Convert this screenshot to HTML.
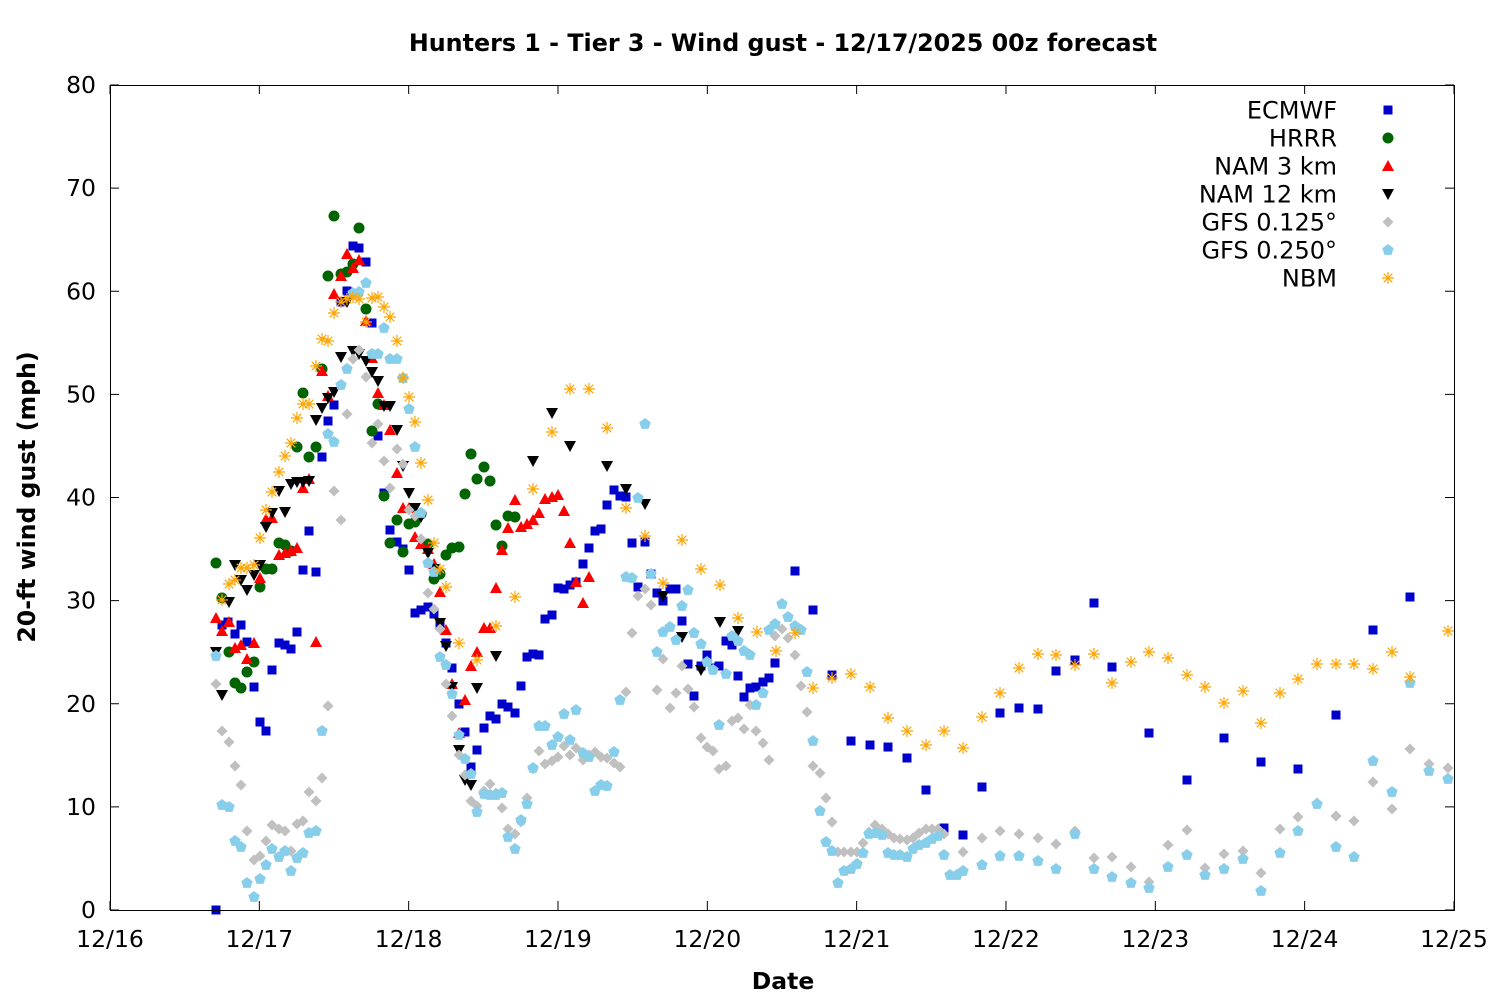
<!DOCTYPE html>
<html><head><meta charset="utf-8"><style>html,body{margin:0;padding:0;background:#fff}svg text{font-family:"DejaVu Sans","Liberation Sans",sans-serif}</style></head>
<body>
<svg id="s" xmlns="http://www.w3.org/2000/svg" width="1500" height="1000" viewBox="0 0 1500 1000">
<rect width="1500" height="1000" fill="#fff"/>
<text x="783" y="51" font-size="23.8" font-weight="bold" text-anchor="middle">Hunters 1 - Tier 3 - Wind gust - 12/17/2025 00z forecast</text>
<text x="783" y="989" font-size="23.5" font-weight="bold" text-anchor="middle">Date</text>
<text transform="translate(35,497) rotate(-90)" font-size="23.6" font-weight="bold" text-anchor="middle">20-ft wind gust (mph)</text>
<g id="ax"></g>
<g id="pts"></g>
<rect x="110.5" y="85.5" width="1344" height="825" fill="none" stroke="#000" stroke-width="1"/>
</svg>
<script>
const NS="http://www.w3.org/2000/svg";
const ax=document.getElementById('ax'),pts=document.getElementById('pts');
function el(t,a,p){const e=document.createElementNS(NS,t);for(const k in a)e.setAttribute(k,a[k]);(p||pts).appendChild(e);return e;}
for(let i=0;i<=8;i++){const y=910-i*103.125;
 el('line',{x1:110,y1:y,x2:119,y2:y,stroke:'#000'},ax);el('line',{x1:1454,y1:y,x2:1445,y2:y,stroke:'#000'},ax);
 const t=el('text',{x:96,y:y+8,'font-size':23.5,'text-anchor':'end'},ax);t.textContent=i*10;}
for(let i=0;i<=9;i++){const x=110+i*149.33;
 el('line',{x1:x,y1:910,x2:x,y2:901,stroke:'#000'},ax);el('line',{x1:x,y1:85,x2:x,y2:94,stroke:'#000'},ax);
 const t=el('text',{x:x,y:947,'font-size':23.5,'text-anchor':'middle'},ax);t.textContent='12/'+(16+i);}
function P(s){const a=[];const r=/\((\d+),(\d+)\)/g;let m;while(m=r.exec(s))a.push([+m[1],+m[2]]);return a;}
const M={
sq:(x,y)=>el('rect',{x:x-4.5,y:y-4.5,width:9,height:9,fill:'#0000cc'}),
ci:(x,y)=>el('circle',{cx:x,cy:y,r:5.5,fill:'#006400'}),
tu:(x,y)=>el('polygon',{points:`${x},${y-6} ${x+6},${y+5} ${x-6},${y+5}`,fill:'#ff0000'}),
td:(x,y)=>el('polygon',{points:`${x},${y+6} ${x+6},${y-5} ${x-6},${y-5}`,fill:'#000'}),
di:(x,y)=>el('polygon',{points:`${x},${y-5.5} ${x+5.5},${y} ${x},${y+5.5} ${x-5.5},${y}`,fill:'#c0c0c0'}),
pe:(x,y)=>el('polygon',{points:`${x},${y-6} ${x+5.7},${y-1.8} ${x+3.5},${y+4.9} ${x-3.5},${y+4.9} ${x-5.7},${y-1.8}`,fill:'#87ceeb'}),
as:(x,y)=>el('path',{d:`M${x-6},${y}h12M${x},${y-6}v12M${x-4.3},${y-4.3}l8.6,8.6M${x-4.3},${y+4.3}l8.6,-8.6`,stroke:'#ffa500','stroke-width':1.2,fill:'none'})};
const D=[
['sq','ECMWF',P("(216,910),(222,625),(228,622),(235,634),(241,625),(247,642),(254,687),(260,722),(266,731),(272,670),(279,643),(285,645),(291,649),(297,632),(303,570),(309,531),(316,572),(322,457),(328,421),(334,405),(341,302),(347,291),(353,246),(359,248),(366,262),(372,323),(378,436),(384,493),(390,530),(397,542),(403,549),(409,570),(415,613),(421,610),(428,607),(434,614),(440,624),(446,643),(452,668),(459,704),(465,732),(471,767),(477,750),(484,728),(490,716),(496,719),(502,704),(508,707),(515,713),(521,686),(527,657),(533,654),(539,655),(545,619),(552,615),(558,588),(564,589),(570,585),(576,582),(583,564),(589,548),(595,531),(601,529),(607,505),(614,490),(620,496),(626,497),(632,543),(638,587),(645,542),(651,574),(657,593),(663,601),(670,589),(676,589),(682,621),(688,664),(694,696),(701,666),(707,655),(713,668),(719,666),(726,641),(732,645),(738,676),(744,697),(750,688),(756,687),(763,682),(769,678),(775,663),(795,571),(813,610),(832,675),(851,741),(870,745),(888,747),(907,758),(926,790),(944,828),(963,835),(982,787),(1000,713),(1019,708),(1038,709),(1056,671),(1075,660),(1094,603),(1112,667),(1149,733),(1187,780),(1224,738),(1261,762),(1298,769),(1336,715),(1373,630),(1410,597)")],
['ci','HRRR',P("(216,563),(222,598),(229,652),(235,683),(241,688),(247,672),(254,662),(260,587),(266,569),(272,569),(279,543),(285,545),(291,551),(297,447),(303,393),(309,457),(316,447),(322,369),(328,276),(334,216),(341,274),(347,272),(353,264),(359,228),(366,309),(372,431),(378,404),(384,496),(390,543),(397,520),(403,552),(409,524),(415,522),(421,514),(428,544),(434,579),(440,574),(446,555),(452,548),(459,547),(465,494),(471,454),(477,479),(484,467),(490,481),(496,525),(502,546),(508,516),(515,517)")],
['tu','NAM 3 km',P("(216,618),(222,631),(229,622),(235,648),(241,645),(247,659),(254,643),(260,578),(266,519),(272,518),(279,555),(285,553),(291,551),(297,548),(303,488),(309,479),(316,642),(322,371),(328,396),(334,294),(341,276),(347,254),(353,268),(359,260),(366,321),(372,358),(378,393),(384,405),(390,430),(397,473),(403,508),(409,508),(415,537),(421,544),(428,549),(434,564),(440,592),(446,630),(452,684),(459,733),(465,700),(471,666),(477,652),(484,628),(490,628),(496,588),(502,550),(508,528),(515,500),(521,527),(527,524),(533,520),(539,513),(545,499),(552,497),(558,495),(564,511),(570,543),(576,582),(583,603),(589,577)")],
['td','NAM 12 km',P("(216,652),(222,695),(229,602),(235,565),(241,580),(247,590),(254,575),(260,565),(266,527),(272,513),(279,491),(285,512),(291,484),(297,482),(303,482),(309,481),(316,420),(322,408),(328,398),(334,392),(341,357),(347,302),(353,351),(359,354),(366,361),(372,372),(378,381),(384,406),(390,406),(397,430),(403,466),(409,493),(415,508),(421,517),(428,553),(434,569),(440,623),(446,646),(452,687),(459,750),(465,780),(471,785),(477,688),(496,656),(533,461),(552,413),(570,446),(607,466),(626,489),(645,504),(663,596),(682,637),(701,670),(720,622),(738,631)")],
['di','GFS 0.125°',P("(216,684),(222,731),(229,742),(235,766),(241,785),(247,831),(254,860),(260,856),(266,841),(272,825),(279,829),(285,831),(291,851),(297,824),(303,821),(309,792),(316,801),(322,778),(328,706),(334,491),(341,520),(347,414),(353,359),(359,350),(366,377),(372,443),(378,424),(384,461),(390,488),(397,449),(403,464),(409,510),(415,516),(421,539),(428,593),(434,609),(440,629),(446,684),(452,716),(459,755),(465,775),(471,801),(477,806),(484,791),(490,784),(496,793),(502,808),(508,829),(515,834),(521,822),(527,798),(533,769),(539,751),(545,764),(552,761),(558,757),(564,746),(570,755),(576,748),(583,760),(589,755),(595,752),(601,757),(607,758),(614,763),(620,767),(626,692),(632,633),(638,596),(645,589),(651,605),(657,690),(663,659),(670,708),(676,693),(682,666),(688,689),(694,707),(701,738),(707,747),(713,751),(719,769),(726,766),(732,721),(738,718),(744,729),(750,705),(756,731),(763,743),(769,760),(775,636),(782,629),(788,638),(795,655),(801,686),(807,712),(813,766),(820,773),(826,798),(832,822),(838,852),(844,852),(851,852),(857,852),(863,843),(869,832),(875,825),(882,829),(888,834),(894,838),(900,839),(907,840),(913,838),(919,833),(926,829),(932,829),(938,829),(944,834),(963,852),(982,838),(1000,831),(1019,834),(1038,838),(1056,844),(1075,831),(1094,858),(1112,857),(1131,867),(1149,882),(1168,845),(1187,830),(1205,868),(1224,854),(1243,851),(1261,873),(1280,829),(1298,817),(1317,803),(1336,816),(1354,821),(1373,782),(1392,809),(1410,749),(1429,764),(1448,768)")],
['pe','GFS 0.250°',P("(216,656),(222,805),(229,807),(235,841),(241,847),(247,883),(254,897),(260,879),(266,865),(272,849),(279,857),(285,851),(291,871),(297,858),(303,853),(309,833),(316,831),(322,731),(328,434),(334,442),(341,385),(347,369),(353,293),(359,292),(366,283),(372,354),(378,354),(384,328),(390,359),(397,359),(403,378),(409,409),(415,447),(421,513),(428,563),(434,572),(440,657),(446,665),(452,694),(459,735),(465,759),(471,774),(477,812),(484,794),(490,795),(496,795),(502,793),(508,837),(515,849),(521,820),(527,804),(533,768),(539,726),(545,726),(552,745),(558,737),(564,714),(570,740),(576,710),(583,753),(589,757),(595,791),(601,785),(607,786),(614,752),(620,700),(626,577),(632,578),(638,498),(645,424),(651,574),(657,652),(663,632),(670,627),(676,640),(682,606),(688,590),(694,633),(701,644),(707,662),(713,670),(719,725),(726,674),(732,636),(738,641),(744,651),(750,655),(756,705),(763,693),(769,630),(775,624),(782,604),(788,617),(795,626),(801,630),(807,672),(813,741),(820,811),(826,842),(832,851),(838,883),(844,871),(851,869),(857,864),(863,853),(869,834),(875,833),(882,835),(888,853),(894,855),(900,855),(907,857),(913,849),(919,845),(926,843),(932,839),(938,836),(944,855),(950,875),(957,875),(963,871),(982,865),(1000,856),(1019,856),(1038,861),(1056,869),(1075,834),(1094,869),(1112,877),(1131,883),(1149,888),(1168,867),(1187,855),(1205,875),(1224,869),(1243,859),(1261,891),(1280,853),(1298,831),(1317,804),(1336,847),(1354,857),(1373,761),(1392,792),(1410,683),(1429,771),(1448,779)")],
['as','NBM',P("(222,600),(229,584),(235,580),(241,568),(247,568),(254,565),(260,538),(266,510),(272,492),(279,472),(285,456),(291,443),(297,418),(303,404),(309,404),(316,366),(322,339),(328,341),(334,313),(341,302),(347,299),(353,297),(359,299),(366,322),(372,298),(378,297),(384,307),(390,317),(397,341),(403,378),(409,397),(415,422),(421,463),(428,500),(434,543),(440,569),(446,587),(459,643),(477,660),(496,626),(515,597),(533,489),(552,432),(570,389),(589,389),(607,428),(626,508),(645,536),(663,583),(682,540),(701,569),(720,585),(738,618),(757,632),(776,651),(795,633),(813,688),(832,678),(851,674),(870,687),(888,718),(907,731),(926,745),(944,731),(963,748),(982,717),(1000,693),(1019,668),(1038,654),(1056,655),(1075,665),(1094,654),(1112,683),(1131,662),(1149,652),(1168,658),(1187,675),(1205,687),(1224,703),(1243,691),(1261,723),(1280,693),(1298,679),(1317,664),(1336,664),(1354,664),(1373,669),(1392,652),(1410,677),(1448,631)")]];
D.forEach((d,i)=>{d[2].forEach(p=>M[d[0]](p[0],p[1]));const y=110+i*28;M[d[0]](1388,y);
 const t=el('text',{x:1337,y:y+8.5,'font-size':24,'text-anchor':'end'});t.textContent=d[1];});
</script>
</body></html>
